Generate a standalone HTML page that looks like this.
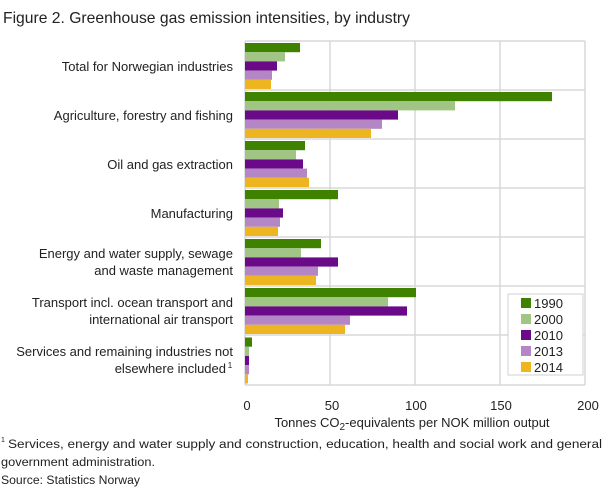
<!DOCTYPE html>
<html><head><meta charset="utf-8"><style>
body{margin:0;background:#fff;width:608px;height:489px;overflow:hidden;font-family:"Liberation Sans",sans-serif;color:#222}
</style></head><body>
<svg width="608" height="489" xmlns="http://www.w3.org/2000/svg" font-family="Liberation Sans, sans-serif">
<text x="3" y="23" font-size="16" fill="#222" textLength="407" lengthAdjust="spacingAndGlyphs">Figure 2. Greenhouse gas emission intensities, by industry</text>
<g stroke="#d8d8d8" stroke-width="1.5">
<line x1="245" y1="41" x2="585" y2="41"/><line x1="245" y1="90" x2="585" y2="90"/><line x1="245" y1="139" x2="585" y2="139"/><line x1="245" y1="188" x2="585" y2="188"/><line x1="245" y1="237" x2="585" y2="237"/><line x1="245" y1="286" x2="585" y2="286"/><line x1="245" y1="335" x2="585" y2="335"/><line x1="245" y1="385" x2="585" y2="385"/>
<line x1="245" y1="41" x2="245" y2="385"/><line x1="330" y1="41" x2="330" y2="385"/><line x1="415" y1="41" x2="415" y2="385"/><line x1="500" y1="41" x2="500" y2="385"/><line x1="585" y1="41" x2="585" y2="385"/>
</g>
<g id="bars">
<rect x="245" y="43" width="55" height="9.2" fill="#3e8200"/><rect x="245" y="52.2" width="40" height="9.2" fill="#a0c585"/><rect x="245" y="61.4" width="32" height="9.2" fill="#6a0a88"/><rect x="245" y="70.6" width="27" height="9.2" fill="#b586c6"/><rect x="245" y="79.8" width="26" height="9.2" fill="#edb520"/>
<rect x="245" y="92" width="307" height="9.2" fill="#3e8200"/><rect x="245" y="101.2" width="210" height="9.2" fill="#a0c585"/><rect x="245" y="110.4" width="153" height="9.2" fill="#6a0a88"/><rect x="245" y="119.6" width="137" height="9.2" fill="#b586c6"/><rect x="245" y="128.8" width="126" height="9.2" fill="#edb520"/>
<rect x="245" y="141" width="60" height="9.2" fill="#3e8200"/><rect x="245" y="150.2" width="51" height="9.2" fill="#a0c585"/><rect x="245" y="159.4" width="58" height="9.2" fill="#6a0a88"/><rect x="245" y="168.6" width="62" height="9.2" fill="#b586c6"/><rect x="245" y="177.8" width="64" height="9.2" fill="#edb520"/>
<rect x="245" y="190" width="93" height="9.2" fill="#3e8200"/><rect x="245" y="199.2" width="34" height="9.2" fill="#a0c585"/><rect x="245" y="208.4" width="38" height="9.2" fill="#6a0a88"/><rect x="245" y="217.6" width="35" height="9.2" fill="#b586c6"/><rect x="245" y="226.8" width="33" height="9.2" fill="#edb520"/>
<rect x="245" y="239" width="76" height="9.2" fill="#3e8200"/><rect x="245" y="248.2" width="56" height="9.2" fill="#a0c585"/><rect x="245" y="257.4" width="93" height="9.2" fill="#6a0a88"/><rect x="245" y="266.6" width="73" height="9.2" fill="#b586c6"/><rect x="245" y="275.8" width="71" height="9.2" fill="#edb520"/>
<rect x="245" y="288" width="171" height="9.2" fill="#3e8200"/><rect x="245" y="297.2" width="143" height="9.2" fill="#a0c585"/><rect x="245" y="306.4" width="162" height="9.2" fill="#6a0a88"/><rect x="245" y="315.6" width="105" height="9.2" fill="#b586c6"/><rect x="245" y="324.8" width="100" height="9.2" fill="#edb520"/>
<rect x="245" y="337.5" width="7" height="9.2" fill="#3e8200"/><rect x="245" y="346.7" width="4" height="9.2" fill="#a0c585"/><rect x="245" y="355.9" width="4" height="9.2" fill="#6a0a88"/><rect x="245" y="365.1" width="4" height="9.2" fill="#b586c6"/><rect x="245" y="374.3" width="3" height="9.2" fill="#edb520"/>
</g>
<g font-size="13" fill="#222" text-anchor="end">
<text x="233" y="71">Total for Norwegian industries</text>
<text x="233" y="120">Agriculture, forestry and fishing</text>
<text x="233" y="169">Oil and gas extraction</text>
<text x="233" y="218">Manufacturing</text>
<text x="233" y="258">Energy and water supply, sewage</text>
<text x="233" y="275">and waste management</text>
<text x="233" y="307">Transport incl. ocean transport and</text>
<text x="233" y="324">international air transport</text>
<text x="233" y="356">Services and remaining  industries not</text>
<text x="226" y="373">elsewhere  included</text>
<text x="230" y="368" font-size="8" text-anchor="middle">1</text>
</g>
<rect x="508" y="294" width="75" height="81" fill="#fff" stroke="#d0d0d0"/>
<g font-size="13" fill="#222">
<rect x="521" y="298" width="10" height="10" fill="#3e8200"/><text x="534" y="308">1990</text>
<rect x="521" y="314" width="10" height="10" fill="#a0c585"/><text x="534" y="324">2000</text>
<rect x="521" y="330" width="10" height="10" fill="#6a0a88"/><text x="534" y="340">2010</text>
<rect x="521" y="346" width="10" height="10" fill="#b586c6"/><text x="534" y="356">2013</text>
<rect x="521" y="362" width="10" height="10" fill="#edb520"/><text x="534" y="372">2014</text>
</g>
<g font-size="13" fill="#222" text-anchor="middle">
<text x="247" y="410">0</text><text x="332" y="410">50</text><text x="416" y="410">100</text><text x="501" y="410">150</text><text x="588" y="410">200</text>
<text x="412" y="427">Tonnes CO<tspan font-size="10" dy="3">2</tspan><tspan dy="-3">-equivalents  per NOK million output</tspan></text>
</g>
<g font-size="11.5" fill="#222">
<text x="1" y="442" font-size="7">1</text>
<text x="8" y="448" textLength="594" lengthAdjust="spacingAndGlyphs">Services, energy and water supply and construction, education, health and social work and general</text>
<text x="1" y="466" textLength="154" lengthAdjust="spacingAndGlyphs">government administration.</text>
<text x="1" y="484" textLength="139" lengthAdjust="spacingAndGlyphs">Source: Statistics Norway</text>
</g>
</svg>
</body></html>
